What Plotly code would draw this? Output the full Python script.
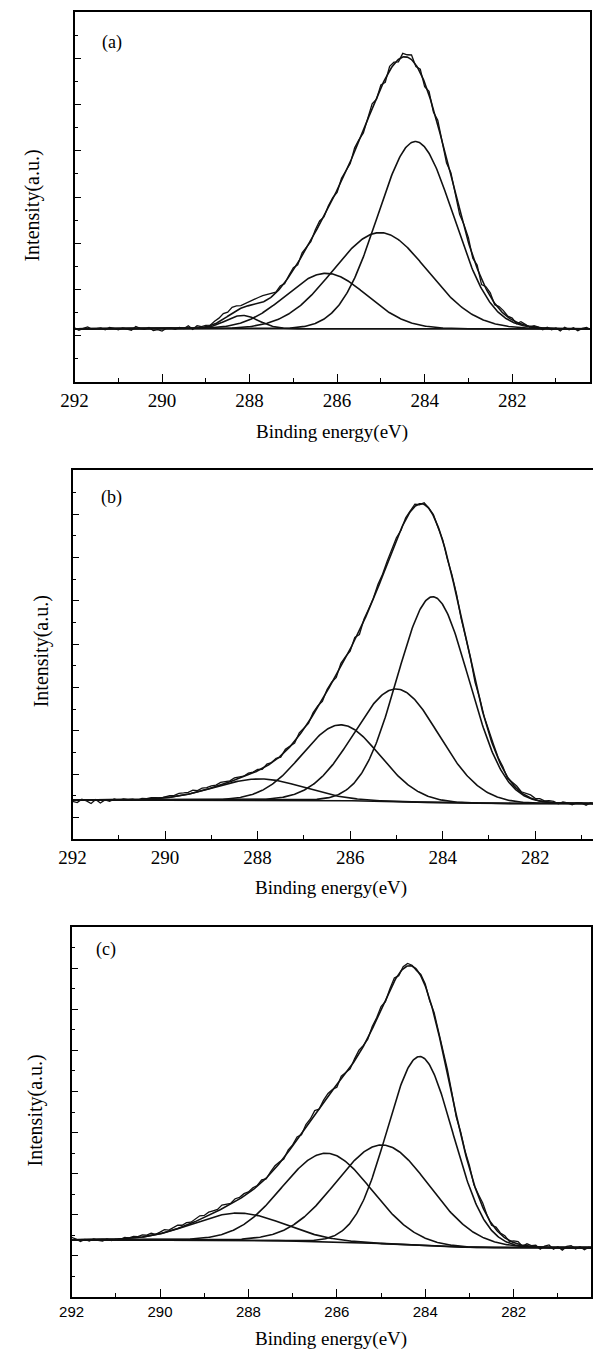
import numpy as np
import plotly.graph_objects as go

# ---------------- data ----------------
# energy grid of the raw spectra (eV), 0.1 eV step, 292.0 -> 280.2
BE_START = 292.0
BE_STEP = 0.1
N_RAW = 119

# fitted components: centre (eV), height above background (a.u.), sigma (eV)
centers_a = [284.21, 285.02, 286.25, 288.17]
heights_a = [4.05, 2.08, 1.20, 0.29]
sigmas_a = [0.86, 1.08, 0.92, 0.38]
bg_a = [1.15, 1.15]          # background level: high-BE side, low-BE side

centers_b = [284.21, 285.00, 286.20, 287.96]
heights_b = [4.75, 2.60, 1.75, 0.49]
sigmas_b = [0.77, 0.91, 0.84, 0.96]
bg_b = [0.40, 0.32]

centers_c = [284.12, 284.96, 286.23, 288.22]
heights_c = [4.60, 2.40, 2.15, 0.66]
sigmas_c = [0.74, 1.06, 1.01, 1.03]
bg_c = [1.39, 1.20]

# deviation of the measured spectrum from the fitted envelope (292.0 -> 280.2)
resid_a = [0.02, -0.03, 0.01, 0.04, -0.01, 0.00, 0.02, -0.02, 0.03, 0.01,
           -0.02, 0.02, 0.00, -0.03, 0.05, 0.01, -0.01, 0.03, -0.04, -0.02,
           -0.05, 0.01, 0.02, -0.01, 0.03, 0.00, 0.06, -0.02, 0.05, 0.02,
           0.03, 0.01, 0.06, 0.08, 0.12, 0.09, 0.13, 0.10, 0.06, 0.07,
           0.09, 0.12, 0.13, 0.14, 0.12, 0.08, 0.02, 0.05, -0.02, 0.03,
           0.05, -0.04, 0.06, 0.02, -0.03, 0.05, 0.07, -0.02, 0.04, 0.03,
           -0.05, 0.06, 0.02, -0.04, 0.08, 0.03, -0.06, 0.05, 0.10, -0.03,
           0.06, -0.08, 0.09, 0.04, -0.05, 0.08, 0.05, 0.10, -0.04, 0.07,
           -0.09, 0.08, -0.06, 0.10, 0.04, -0.08, 0.09, 0.05, -0.07, 0.06,
           0.10, -0.05, 0.07, -0.12, 0.04, 0.08, -0.03, 0.05, 0.06, 0.02,
           0.04, -0.03, 0.05, 0.02, -0.02, 0.03, 0.01, -0.04, 0.02, -0.03,
           0.01, -0.05, 0.03, -0.02, 0.02, -0.04, 0.01, 0.03, -0.02]
resid_b = [-0.03, -0.06, 0.02, -0.02, -0.08, 0.01, -0.07, 0.00, -0.03, 0.02,
           -0.01, 0.02, 0.00, 0.01, -0.02, 0.02, 0.01, 0.03, 0.02, 0.00,
           0.02, 0.04, 0.03, 0.06, 0.05, 0.04, 0.07, 0.03, 0.06, 0.04,
           0.05, 0.03, 0.06, 0.04, 0.02, 0.05, 0.03, 0.01, 0.04, 0.02,
           0.03, -0.02, 0.04, 0.01, 0.03, -0.03, 0.05, 0.02, -0.04, 0.06,
           0.02, -0.03, 0.05, 0.03, -0.05, 0.04, 0.02, -0.06, 0.07, 0.03,
           -0.05, 0.06, -0.09, 0.04, 0.03, 0.02, 0.08, 0.04, 0.06, 0.03,
           0.05, -0.03, 0.04, 0.02, 0.05, -0.02, 0.04, 0.01, 0.03, -0.02,
           0.02, -0.04, 0.03, 0.05, -0.02, 0.04, 0.07, -0.03, 0.05, 0.02,
           0.04, 0.06, 0.03, 0.05, -0.03, 0.04, 0.06, 0.02, 0.05, 0.07,
           0.03, 0.05, 0.02, 0.04, 0.03, -0.02, 0.03, 0.01, -0.03, 0.02,
           0.01, -0.04, 0.02, -0.03, 0.01, 0.00, -0.02, 0.01, -0.03]
resid_c = [0.06, 0.02, -0.04, 0.01, -0.03, 0.02, -0.02, -0.04, 0.01, -0.03,
           0.00, -0.02, 0.03, 0.01, 0.04, 0.02, 0.05, 0.03, 0.06, 0.01,
           0.04, 0.07, 0.03, 0.05, 0.08, 0.04, 0.06, 0.03, 0.07, 0.09,
           0.05, 0.08, 0.06, 0.04, 0.09, 0.05, 0.02, 0.07, 0.04, 0.06,
           0.03, 0.05, 0.02, 0.06, -0.02, 0.04, 0.07, 0.03, -0.03, 0.05,
           0.02, 0.06, -0.04, 0.05, 0.03, 0.08, -0.03, 0.04, 0.06, 0.02,
           -0.06, 0.07, 0.03, -0.04, 0.05, 0.09, 0.02, -0.03, 0.06, 0.04,
           0.07, -0.05, 0.03, 0.08, -0.04, 0.05, 0.06, 0.02, -0.03, 0.04,
           0.05, -0.04, 0.06, 0.03, -0.02, 0.09, 0.04, -0.06, 0.05, 0.03,
           0.08, -0.03, 0.05, 0.10, 0.02, -0.04, 0.06, 0.03, 0.05, -0.02,
           0.04, 0.06, -0.03, 0.05, 0.02, 0.04, -0.05, 0.03, 0.06, -0.04,
           0.02, -0.06, 0.03, 0.05, -0.03, 0.02, -0.05, 0.01, -0.04]

x_ticks = [292, 290, 288, 286, 284, 282]
x_tick_text = ["292", "290", "288", "286", "284", "282"]
panel_labels = ["(a)", "(b)", "(c)"]
x_title = "Binding energy(eV)"
y_title = "Intensity(a.u.)"

# ---------------- model curves ----------------
FINE = 5
be = BE_START - (BE_STEP / FINE) * np.arange((N_RAW - 1) * FINE + 1)


def model(centers, heights, sigmas, bg):
    comps = [h * np.exp(-(be - c) ** 2 / (2 * s ** 2)) for c, h, s in zip(centers, heights, sigmas)]
    total = np.sum(comps, axis=0)
    # Shirley-type step background (high-BE level on the left, low-BE level on the right)
    cum = np.cumsum(total[::-1])[::-1]
    frac = cum / cum[0]
    back = bg[1] + (bg[0] - bg[1]) * frac
    return back, [back + g for g in comps], back + total


LINE = dict(color="#111111", width=1.6)

panels = [
    dict(c=centers_a, h=heights_a, s=sigmas_a, bg=bg_a, r=resid_a,
         xdom=[62 / 593, 590 / 593], top=12, bot=382, xr=[292, 280.22], tpad=50,
         yr=[0, 8], ymirror=True, tickfont=dict(family="Liberation Serif", size=19, color="black")),
    dict(c=centers_b, h=heights_b, s=sigmas_b, bg=bg_b, r=resid_b,
         xdom=[60 / 593, 1.0], top=470, bot=839, xr=[292, 280.75], tpad=49,
         yr=[-0.5, 8.02], ymirror=False, tickfont=dict(family="Liberation Serif", size=19, color="black")),
    dict(c=centers_c, h=heights_c, s=sigmas_c, bg=bg_c, r=resid_c,
         xdom=[59 / 593, 591 / 593], top=927, bot=1297, xr=[292, 280.25], tpad=42,
         yr=[0, 9], ymirror=True, tickfont=dict(family="Liberation Sans", size=15, color="black")),
]

H = 1351
W = 593
fig = go.Figure()
annotations = []
ytitle_pos = [(18, 206), (29, 651), (22, 1110)]
label_pos = [(100, 42), (100, 498), (94, 949)]

for i, p in enumerate(panels):
    xa = "x" if i == 0 else f"x{i + 1}"
    ya = "y" if i == 0 else f"y{i + 1}"
    back, comps, env = model(p["c"], p["h"], p["s"], p["bg"])
    raw = env[::FINE] + np.array(p["r"])
    fig.add_trace(go.Scatter(x=be, y=back, mode="lines", line=LINE, xaxis=xa, yaxis=ya, showlegend=False))
    for comp in comps:
        fig.add_trace(go.Scatter(x=be, y=comp, mode="lines", line=LINE, xaxis=xa, yaxis=ya, showlegend=False))
    fig.add_trace(go.Scatter(x=be, y=env, mode="lines", line=LINE, xaxis=xa, yaxis=ya, showlegend=False))
    fig.add_trace(go.Scatter(x=be[::FINE], y=raw, mode="lines", line=dict(color="#111111", width=1.3),
                             xaxis=xa, yaxis=ya, showlegend=False))

    ydom = [1 - p["bot"] / H, 1 - p["top"] / H]
    xkey = "xaxis" if i == 0 else f"xaxis{i + 1}"
    ykey = "yaxis" if i == 0 else f"yaxis{i + 1}"
    fig.update_layout(**{
        xkey: dict(domain=p["xdom"], anchor=ya, range=p["xr"], showgrid=False, zeroline=False,
                   showline=True, linecolor="black", linewidth=1.5, mirror=True,
                   ticks="inside", ticklen=8, tickwidth=1.3, tickcolor="black",
                   tickvals=x_ticks, ticktext=x_tick_text, tickfont=p["tickfont"],
                   minor=dict(dtick=1, tick0=292, ticks="inside", ticklen=4, tickwidth=1.2, tickcolor="black"),
                   fixedrange=True),
        ykey: dict(domain=ydom, anchor=xa, range=p["yr"], showgrid=False, zeroline=False,
                   showline=True, linecolor="black", linewidth=1.5, mirror=p["ymirror"],
                   ticks="inside", ticklen=7, tickwidth=1.3, tickcolor="black",
                   tick0=0, dtick=1, showticklabels=False,
                   minor=dict(dtick=0.5, tick0=0, ticks="inside", ticklen=4, tickwidth=1.2, tickcolor="black"),
                   fixedrange=True),
    })
    xc = (p["xdom"][0] + min(p["xdom"][1], 590 / 593)) / 2
    annotations.append(dict(text=x_title, x=xc, y=1 - (p["bot"] + p["tpad"]) / H, xref="paper", yref="paper",
                            xanchor="center", yanchor="middle", showarrow=False,
                            font=dict(family="Liberation Serif", size=19, color="black")))
    tx, ty = ytitle_pos[i]
    annotations.append(dict(text=y_title, x=tx / W, y=1 - ty / H, xref="paper", yref="paper",
                            xanchor="center", yanchor="middle", textangle=-90, showarrow=False,
                            font=dict(family="Liberation Serif", size=20, color="black")))
    lx, ly = label_pos[i]
    annotations.append(dict(text=panel_labels[i], x=lx / W, y=1 - ly / H, xref="paper", yref="paper",
                            xanchor="center", yanchor="middle", showarrow=False,
                            font=dict(family="Liberation Serif", size=18, color="black")))

fig.update_layout(width=W, height=H, margin=dict(l=0, r=0, t=0, b=0),
                  paper_bgcolor="white", plot_bgcolor="white", annotations=annotations,
                  showlegend=False)
fig.write_html("out.html")
